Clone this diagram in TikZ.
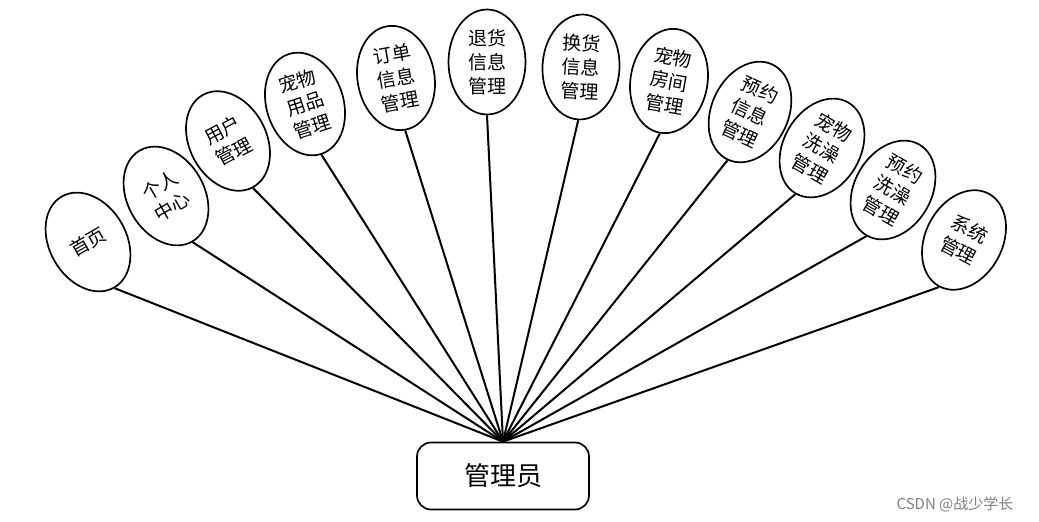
\documentclass[tikz,border=0pt]{standalone}
\usepackage{fontspec}
\newfontfamily\cjk{Noto Sans CJK SC}
\usetikzlibrary{shapes.geometric}
\begin{document}
\begin{tikzpicture}[x=1pt,y=-1pt,
  leaf/.style={ellipse,draw,line width=1.7pt,fill=white,minimum width=77pt,minimum height=105pt,inner sep=0pt,align=center,font=\cjk\fontsize{19}{24}\selectfont},
  link/.style={line width=2pt},
  root/.style={draw,rounded corners=14pt,line width=1.7pt,fill=white,minimum width=172pt,minimum height=67pt,font=\cjk\fontsize{26}{30}\selectfont}]
\useasboundingbox (0,0) rectangle (1039,522);
\node[root] (r) at (503,476) {管理员};
\node[leaf,rotate=30] (n1) at (88,242) {首页};
\node[leaf,rotate=30] (n2) at (166,196) {个人\\中心};
\node[leaf,rotate=28] (n3) at (228,141) {用户\\管理};
\node[leaf,rotate=18] (n4) at (305,104) {宠物\\用品\\管理};
\node[leaf,rotate=10] (n5) at (396,78) {订单\\信息\\管理};
\node[leaf] (n6) at (487,62) {退货\\信息\\管理};
\node[leaf,rotate=-3] (n7) at (581,67) {换货\\信息\\管理};
\node[leaf,rotate=-10] (n8) at (669,81) {宠物\\房间\\管理};
\node[leaf,rotate=-25] (n9) at (750,112) {预约\\信息\\管理};
\node[leaf,rotate=-30] (n10) at (822,148) {宠物\\洗澡\\管理};
\node[leaf,rotate=-30] (n11) at (893,190) {预约\\洗澡\\管理};
\node[leaf,rotate=-28] (n12) at (964,240) {系统\\管理};
\foreach \i in {1,...,12} {\draw[link] (n\i.south) -- (r.north);}
\node[font=\cjk\fontsize{15}{17}\selectfont,text=gray] (wm) at (955,504) {CSDN @战少学长};
\end{tikzpicture}
\end{document}
